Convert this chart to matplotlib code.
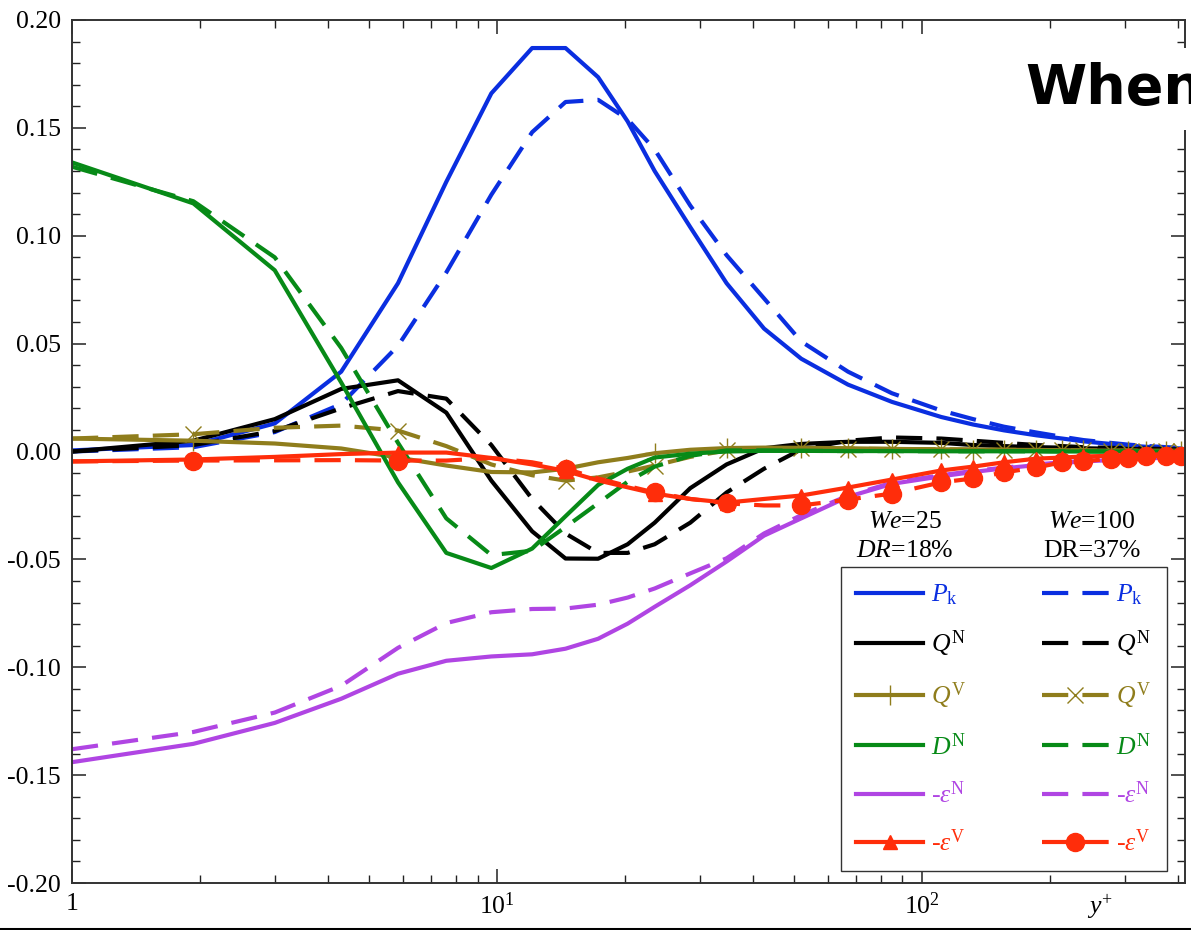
import numpy as np
import matplotlib
matplotlib.use("Agg")
import matplotlib.pyplot as plt
from matplotlib.lines import Line2D
from matplotlib.ticker import FixedLocator, LogLocator, MultipleLocator, FormatStrFormatter, NullFormatter

plt.rcParams['font.family'] = ['Liberation Serif', 'DejaVu Serif']
plt.rcParams['mathtext.fontset'] = 'custom'
plt.rcParams['mathtext.rm'] = 'Liberation Serif'
plt.rcParams['mathtext.it'] = 'Liberation Serif:italic'
plt.rcParams['mathtext.bf'] = 'Liberation Serif:bold'
plt.rcParams['axes.unicode_minus'] = False

# DATA
yplus = [1.0, 1.93, 3.0, 4.3, 5.85, 7.6, 9.7, 12.1, 14.5, 17.3, 20.3, 23.5, 28.5, 34.7,
         42.5, 52, 67, 85, 111, 132, 156, 186, 214, 240, 278, 305, 336, 376, 406]

# We=25, DR=18% (solid)
pk_25 = [0.0005, 0.003, 0.013, 0.037, 0.078, 0.125, 0.166, 0.187, 0.187, 0.1735, 0.153, 0.130, 0.104, 0.078,
         0.057, 0.043, 0.031, 0.023, 0.016, 0.0125, 0.0098, 0.0075, 0.006, 0.0047, 0.0035, 0.0028, 0.0022, 0.0017, 0.0014]
qn_25 = [0.000, 0.005, 0.015, 0.029, 0.033, 0.018, -0.0135, -0.037, -0.0496, -0.0497, -0.043, -0.033, -0.017, -0.006,
         0.0015, 0.0035, 0.0045, 0.0045, 0.004, 0.003, 0.0025, 0.002, 0.0018, 0.0015, 0.0013, 0.0012, 0.0011, 0.001, 0.001]
qv_25 = [0.006, 0.005, 0.0037, 0.0014, -0.0028, -0.0065, -0.0095, -0.0097, -0.008, -0.005, -0.003, -0.0008, 0.0008, 0.0016,
         0.0018, 0.0017, 0.0015, 0.0012, 0.001, 0.0009, 0.0008, 0.0007, 0.0006, 0.0005, 0.0004, 0.0004, 0.0003, 0.0003, 0.0003]
dn_25 = [0.134, 0.115, 0.084, 0.032, -0.0143, -0.047, -0.054, -0.045, -0.030, -0.0155, -0.008, -0.0028, -0.001, 0.0,
         0.0003, 0.0003, 0.0002, 0.0002, 0.0001, 0.0001, 0.0001, 0.0001, 0.0, 0.0, 0.0, 0.0, 0.0, 0.0, 0.0]
en_25 = [-0.144, -0.1355, -0.1258, -0.1146, -0.103, -0.097, -0.095, -0.094, -0.0914, -0.0868, -0.0798, -0.072, -0.062, -0.051,
         -0.039, -0.031, -0.021, -0.015, -0.0115, -0.0095, -0.0078, -0.0063, -0.0053, -0.0046, -0.004, -0.0035, -0.0032, -0.0029, -0.0027]
ev_25 = [-0.0046, -0.0037, -0.0025, -0.0012, -0.0005, -0.0005, -0.003, -0.006, -0.009, -0.0134, -0.0166, -0.0195, -0.022, -0.0237,
         -0.022, -0.0204, -0.0167, -0.013, -0.0088, -0.007, -0.005, -0.0033, -0.0028, -0.0023, -0.002, -0.0017, -0.0015, -0.0013, -0.001]

# We=100, DR=37% (dashed)
pk_100 = [0.0, 0.002, 0.009, 0.022, 0.049, 0.083, 0.119, 0.148, 0.162, 0.163, 0.154, 0.140, 0.114, 0.091,
          0.071, 0.051, 0.037, 0.027, 0.019, 0.015, 0.0115, 0.0088, 0.0068, 0.0053, 0.004, 0.0032, 0.0026, 0.002, 0.0017]
qn_100 = [0.000, 0.003, 0.0095, 0.020, 0.028, 0.0245, 0.003, -0.022, -0.038, -0.047, -0.047, -0.043, -0.033, -0.019,
          -0.008, 0.001, 0.005, 0.0065, 0.006, 0.005, 0.004, 0.003, 0.0025, 0.002, 0.0017, 0.0015, 0.0013, 0.0012, 0.001]
qv_100 = [0.006, 0.008, 0.011, 0.012, 0.0097, 0.0025, -0.006, -0.011, -0.0135, -0.012, -0.0093, -0.0065, -0.0025, 0.0005,
          0.0012, 0.0014, 0.0013, 0.0012, 0.001, 0.0009, 0.0008, 0.0007, 0.0006, 0.0005, 0.0004, 0.0004, 0.0003, 0.0003, 0.0003]
dn_100 = [0.132, 0.116, 0.090, 0.048, 0.004, -0.031, -0.048, -0.046, -0.035, -0.024, -0.014, -0.007, -0.002, 0.0005,
          0.0005, 0.0003, 0.0002, 0.0002, 0.0001, 0.0001, 0.0001, 0.0001, 0.0, 0.0, 0.0, 0.0, 0.0, 0.0, 0.0]
en_100 = [-0.138, -0.130, -0.121, -0.1086, -0.091, -0.0795, -0.0745, -0.073, -0.0728, -0.071, -0.0677, -0.0635, -0.0565, -0.0495,
          -0.038, -0.0295, -0.0205, -0.0145, -0.011, -0.009, -0.0075, -0.006, -0.005, -0.0044, -0.0038, -0.0034, -0.0031, -0.0028, -0.0026]
ev_100 = [-0.0046, -0.0042, -0.0041, -0.004, -0.0042, -0.0042, -0.003, -0.005, -0.008, -0.0125, -0.016, -0.019, -0.022, -0.024,
          -0.025, -0.025, -0.0223, -0.0195, -0.0143, -0.0125, -0.0097, -0.0074, -0.005, -0.0046, -0.0033, -0.0028, -0.0023, -0.0019, -0.0019]

# grid points carrying a symbol
mark_idx = [1, 4, 8, 11, 13] + list(range(15, 29))

labels = [r'$P_{\rm k}$', r'$Q^{\rm N}$', r'$Q^{\rm V}$', r'$D^{\rm N}$', r'-$\varepsilon^{\rm N}$', r'-$\varepsilon^{\rm V}$']

BLUE = '#0a2ee0'
BLACK = '#000000'
GOLD = '#8f7d1c'
GREEN = '#078a17'
PURPLE = '#b045e3'
RED = '#ff2d0a'

LW = 3.0
DASH = (6.3, 3.4)

fig = plt.figure(figsize=(11.91, 9.30), dpi=100)
ax = fig.add_axes([72/1191, 47/930, 1113/1191, 863/930])

solid, dashed = [], []
solid.append(ax.plot(yplus, pk_25, color=BLUE, lw=LW)[0])
dashed.append(ax.plot(yplus, pk_100, color=BLUE, lw=LW, dashes=DASH)[0])
solid.append(ax.plot(yplus, qn_25, color=BLACK, lw=LW)[0])
dashed.append(ax.plot(yplus, qn_100, color=BLACK, lw=LW, dashes=DASH)[0])
solid.append(ax.plot(yplus, qv_25, color=GOLD, lw=LW, marker='+', ms=15, mew=1.0, markevery=mark_idx)[0])
dashed.append(ax.plot(yplus, qv_100, color=GOLD, lw=LW, dashes=DASH, marker='x', ms=11, mew=1.0, markevery=mark_idx)[0])
solid.append(ax.plot(yplus, dn_25, color=GREEN, lw=LW)[0])
dashed.append(ax.plot(yplus, dn_100, color=GREEN, lw=LW, dashes=DASH)[0])
solid.append(ax.plot(yplus, en_25, color=PURPLE, lw=LW)[0])
dashed.append(ax.plot(yplus, en_100, color=PURPLE, lw=LW, dashes=DASH)[0])
solid.append(ax.plot(yplus, ev_25, color=RED, lw=LW, marker='^', ms=10, markevery=mark_idx)[0])
dashed.append(ax.plot(yplus, ev_100, color=RED, lw=LW, dashes=DASH, marker='o', ms=13, markevery=mark_idx)[0])

ax.set_xscale('log')
ax.set_xlim(1, 416)
ax.set_ylim(-0.20, 0.20)

ax.xaxis.set_major_locator(FixedLocator([1, 10, 100]))
ax.set_xticklabels(['1', r'$10^{1}$', r'$10^{2}$'])
ax.xaxis.set_minor_locator(LogLocator(base=10, subs=np.arange(2, 10)))
ax.xaxis.set_minor_formatter(NullFormatter())
ax.yaxis.set_major_locator(MultipleLocator(0.05))
ax.yaxis.set_minor_locator(MultipleLocator(0.01))
ax.yaxis.set_major_formatter(FormatStrFormatter('%.2f'))

ax.tick_params(which='both', direction='in', top=True, right=True, labelsize=18.5, colors='#222222', labelcolor='black')
ax.tick_params(which='major', length=10, width=1.1)
ax.tick_params(which='minor', length=6, width=1.0)
ax.tick_params(axis='y', pad=8)
ax.tick_params(axis='x', pad=7)
for s in ax.spines.values():
    s.set_linewidth(1.4)
    s.set_color('#333333')

# axis name sits among the tick labels
fig.text(1100/1191, 1 - 914/930, r'$y^{+}$', fontsize=18.5, ha='center', va='baseline')

leg = ax.legend(handles=solid + dashed, labels=labels + labels, ncol=2, loc='lower left',
                bbox_to_anchor=(0.691, 0.0139), borderaxespad=0, fontsize=18.5, labelcolor='linecolor',
                handlelength=2.6, handletextpad=0.3, columnspacing=2.95, labelspacing=0.84,
                borderpad=0.6, fancybox=False, framealpha=1, edgecolor='#333333')
leg.get_frame().set_linewidth(1.0)

fig.text(905/1191, 1 - 522/930, r'$We$=25', fontsize=18.5, ha='center', va='center')
fig.text(905/1191, 1 - 551/930, r'$DR$=18%', fontsize=18.5, ha='center', va='center')
fig.text(1092/1191, 1 - 522/930, r'$We$=100', fontsize=18.5, ha='center', va='center')
fig.text(1092/1191, 1 - 551/930, 'DR=37%', fontsize=18.5, ha='center', va='center')

# bold overlay text clipped at the right edge
fig.text(1025/1191, 1 - 89/930, 'When', family='DejaVu Sans', fontsize=40, fontweight='bold',
         ha='left', va='center', bbox=dict(facecolor='white', edgecolor='none', pad=10))

# dark rule along the bottom edge of the image
fig.add_artist(Line2D([0, 1], [1.5/930, 1.5/930], color='black', lw=2.2, transform=fig.transFigure))

fig.savefig('out.png', dpi=100)
